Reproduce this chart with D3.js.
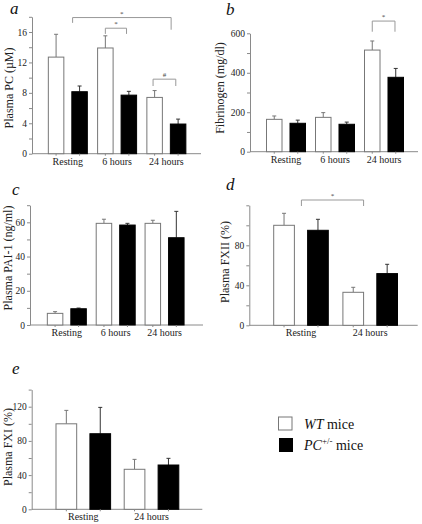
<!DOCTYPE html>
<html><head><meta charset="utf-8">
<script src="https://cdn.jsdelivr.net/npm/d3@7"></script>
<style>body{margin:0;background:#fff}svg{display:block}</style>
</head><body>
<svg id="c" width="422" height="524"></svg>
<script>
// ---- data ----
const series = ["WT", "PC"];
const catsA = ["Resting", "6 hours", "24 hours"];
const wtA = [12.7, 13.9, 7.4], wtErrA = [3.0, 1.6, 0.9];
const pcA = [8.15, 7.7, 3.9], pcErrA = [0.75, 0.5, 0.65];
const ticksA = [0, 4, 8, 12, 16];

const catsB = ["Resting", "6 hours", "24 hours"];
const wtB = [164, 174, 515], wtErrB = [17, 24, 46];
const pcB = [144, 139, 377], pcErrB = [16, 11, 45];
const ticksB = [0, 200, 400, 600];

const catsC = ["Resting", "6 hours", "24 hours"];
const wtC = [6.8, 59.4, 59.4], wtErrC = [1.0, 2.4, 1.8];
const pcC = [9.5, 58.4, 51.0], pcErrC = [0.4, 1.0, 15.4];
const ticksC = [0, 20, 40, 60];

const catsD = ["Resting", "24 hours"];
const wtD = [100, 33], wtErrD = [12, 5];
const pcD = [95, 51.7], pcErrD = [11, 9.3];
const ticksD = [0, 40, 80];

const catsE = ["Resting", "24 hours"];
const wtE = [100, 46.8], wtErrE = [15.7, 11.6];
const pcE = [88.4, 51.8], pcErrE = [30.8, 7.8];
const ticksE = [0, 40, 80, 120];

const yLabels = ["Plasma PC (µM)", "Fibrinogen (mg/dl)", "Plasma PAI-1 (ng/ml)", "Plasma FXII (%)", "Plasma FXI (%)"];
const letters = ["a", "b", "c", "d", "e"];

// ---- layout ----
const panels = [
  {cats: catsA, wt: wtA, wtE: wtErrA, pc: pcA, pcE: pcErrA, ticks: ticksA, minor: 2, ymax: 18,
   ax: 32, axEnd: 201, yr: [153.7, 16.8], xr: [43.2, 191.0], half: 19.5, pad: 0.34,
   lab: [9, 88], let: [10, 14]},
  {cats: catsB, wt: wtB, wtE: wtErrB, pc: pcB, pcE: pcErrB, ticks: ticksB, minor: 100, ymax: 600,
   ax: 250, axEnd: 418, yr: [151.7, 33.3], xr: [261.5, 408.5], half: 19.5, pad: 0.34,
   lab: [220, 88], let: [226, 15]},
  {cats: catsC, wt: wtC, wtE: wtErrC, pc: pcC, pcE: pcErrC, ticks: ticksC, minor: 10, ymax: 70,
   ax: 30, axEnd: 203, yr: [325, 205.2], xr: [42.4, 189], half: 19.5, pad: 0.34,
   lab: [8, 258], let: [12, 195]},
  {cats: catsD, wt: wtD, wtE: wtErrD, pc: pcD, pcE: pcErrD, ticks: ticksD, minor: 20, ymax: 120,
   ax: 249.3, axEnd: 417.7, yr: [325.3, 205.3], xr: [266.4, 404.8], half: 27.3, pad: 0.39,
   lab: [225, 262], let: [226, 190]},
  {cats: catsE, wt: wtE, wtE: wtErrE, pc: pcE, pcE: pcErrE, ticks: ticksE, minor: 20, ymax: 140,
   ax: 31.7, axEnd: 202.3, yr: [509.3, 389.6], xr: [49.2, 185.6], half: 27.3, pad: 0.39,
   lab: [8, 447], let: [12, 374]}
];

// significance brackets: [panel, fromCat, fromSeries, fromFrac, toCat, toSeries, toFrac, topVal, leftLegVal, rightLegVal, label]
const brackets = [
  [0, "Resting", "PC", 0.05, "24 hours", "PC", 0.05, 17.9, 17.2, 16.3, "*"],
  [0, "6 hours", "WT", 0.5, "6 hours", "PC", 0.35, 16.5, 15.75, 15.75, "*"],
  [0, "24 hours", "WT", 0.4, "24 hours", "PC", 0.35, 9.8, 8.9, 8.9, "#"],
  [1, "24 hours", "WT", 0.5, "24 hours", "PC", 0.45, 662, 608, 608, "*"],
  [3, "Resting", "PC", -0.3, "24 hours", "WT", 1.0, 125.3, 119.3, 119.3, "*"]
];

const svg = d3.select("#c");
const axisCol = "#8a8a8a";
const serif = "'Liberation Serif','Times New Roman',serif";
const scales = [];

panels.forEach((p, i) => {
  const g = svg.append("g");
  const y = d3.scaleLinear().domain([0, p.ymax]).range(p.yr);
  const x = d3.scaleBand().domain(p.cats).range(p.xr).padding(0);
  const xi = d3.scaleBand().domain(series).range([-p.half, p.half]).paddingInner(p.pad);
  scales.push({x, xi, y});

  const minorVals = d3.range(0, p.ymax + 1e-9, p.minor);
  const yAxis = d3.axisLeft(y).tickValues(minorVals)
    .tickFormat(d => p.ticks.includes(d) ? d : "").tickSize(3).tickSizeOuter(0).tickPadding(2);
  const ga = g.append("g").attr("transform", `translate(${p.ax},0)`).call(yAxis);
  ga.select(".domain").attr("stroke", axisCol);
  ga.selectAll(".tick line").attr("stroke", axisCol);
  ga.selectAll("text").attr("font-family", serif).attr("font-size", 9.5).attr("fill", "#222");

  // x axis line
  g.append("line").attr("x1", p.ax).attr("x2", p.axEnd).attr("y1", y(0)).attr("y2", y(0))
    .attr("stroke", axisCol);

  const rows = [];
  p.cats.forEach((c, k) => {
    rows.push({c, s: "WT", v: p.wt[k], e: p.wtE[k]});
    rows.push({c, s: "PC", v: p.pc[k], e: p.pcE[k]});
  });
  const bx = d => x(d.c) + x.bandwidth() / 2 + xi(d.s);
  const bw = xi.bandwidth();

  // error bars
  g.selectAll(".err").data(rows).enter().append("path")
    .attr("d", d => {
      const cx = bx(d) + bw / 2, t = y(d.v + d.e);
      return `M${cx},${y(d.v)}V${t}M${cx - 2},${t}H${cx + 2}`;
    })
    .attr("stroke", d => d.s === "WT" ? "#777" : "#333").attr("fill", "none").attr("stroke-width", 1);

  // bars
  g.selectAll(".bar").data(rows).enter().append("rect")
    .attr("x", d => bx(d)).attr("width", bw)
    .attr("y", d => y(d.v)).attr("height", d => y(0) - y(d.v))
    .attr("fill", d => d.s === "WT" ? "#fff" : "#000")
    .attr("stroke", d => d.s === "WT" ? "#777" : "#000").attr("stroke-width", 1);

  // x ticks under each bar
  g.selectAll(".xt").data(rows).enter().append("line")
    .attr("x1", d => bx(d) + bw / 2).attr("x2", d => bx(d) + bw / 2)
    .attr("y1", y(0)).attr("y2", y(0) + 2).attr("stroke", axisCol);

  // category labels
  g.selectAll(".xl").data(p.cats).enter().append("text")
    .attr("x", d => x(d) + x.bandwidth() / 2).attr("y", y(0) + 11)
    .attr("text-anchor", "middle").attr("font-family", serif).attr("font-size", 10).attr("fill", "#222")
    .text(d => d);

  // y label
  g.append("text").attr("transform", `translate(${p.lab[0]},${p.lab[1]}) rotate(-90)`)
    .attr("text-anchor", "middle").attr("dy", "0.35em")
    .attr("font-family", serif).attr("font-size", 12).attr("fill", "#222").text(yLabels[i]);

  // panel letter
  g.append("text").attr("x", p.let[0]).attr("y", p.let[1])
    .attr("font-family", serif).attr("font-style", "italic").attr("font-size", 17).attr("fill", "#111")
    .text(letters[i]);
});

// brackets
brackets.forEach(b => {
  const [pi, c1, s1, f1, c2, s2, f2, top, l1, l2, lab] = b;
  const {x, xi, y} = scales[pi];
  const px = (c, s, f) => x(c) + x.bandwidth() / 2 + xi(s) + f * xi.bandwidth();
  const xa = px(c1, s1, f1), xb = px(c2, s2, f2);
  svg.append("path").attr("d", `M${xa},${y(l1)}V${y(top)}H${xb}V${y(l2)}`)
    .attr("fill", "none").attr("stroke", "#999").attr("stroke-width", 1);
  svg.append("text").attr("x", (xa + xb) / 2).attr("y", y(top) - 2)
    .attr("text-anchor", "middle").attr("font-family", serif)
    .attr("font-size", 7).attr("fill", "#444").text(lab);
});

// legend
const leg = svg.append("g");
leg.append("rect").attr("x", 278.5).attr("y", 417).attr("width", 13.5).attr("height", 13)
  .attr("fill", "#fff").attr("stroke", "#777");
leg.append("rect").attr("x", 279.5).attr("y", 438.5).attr("width", 13).attr("height", 13)
  .attr("fill", "#000").attr("stroke", "#000");
const t1 = leg.append("text").attr("x", 304).attr("y", 428.5).attr("font-family", serif)
  .attr("font-size", 14).attr("fill", "#111");
t1.append("tspan").attr("font-style", "italic").text("WT");
t1.append("tspan").text(" mice");
const t2 = leg.append("text").attr("x", 304).attr("y", 449.5).attr("font-family", serif)
  .attr("font-size", 14).attr("fill", "#111");
t2.append("tspan").attr("font-style", "italic").text("PC");
t2.append("tspan").attr("font-size", 9).attr("dy", -6).text("+/-");
t2.append("tspan").attr("dy", 6).text(" mice");
</script>
</body></html>
